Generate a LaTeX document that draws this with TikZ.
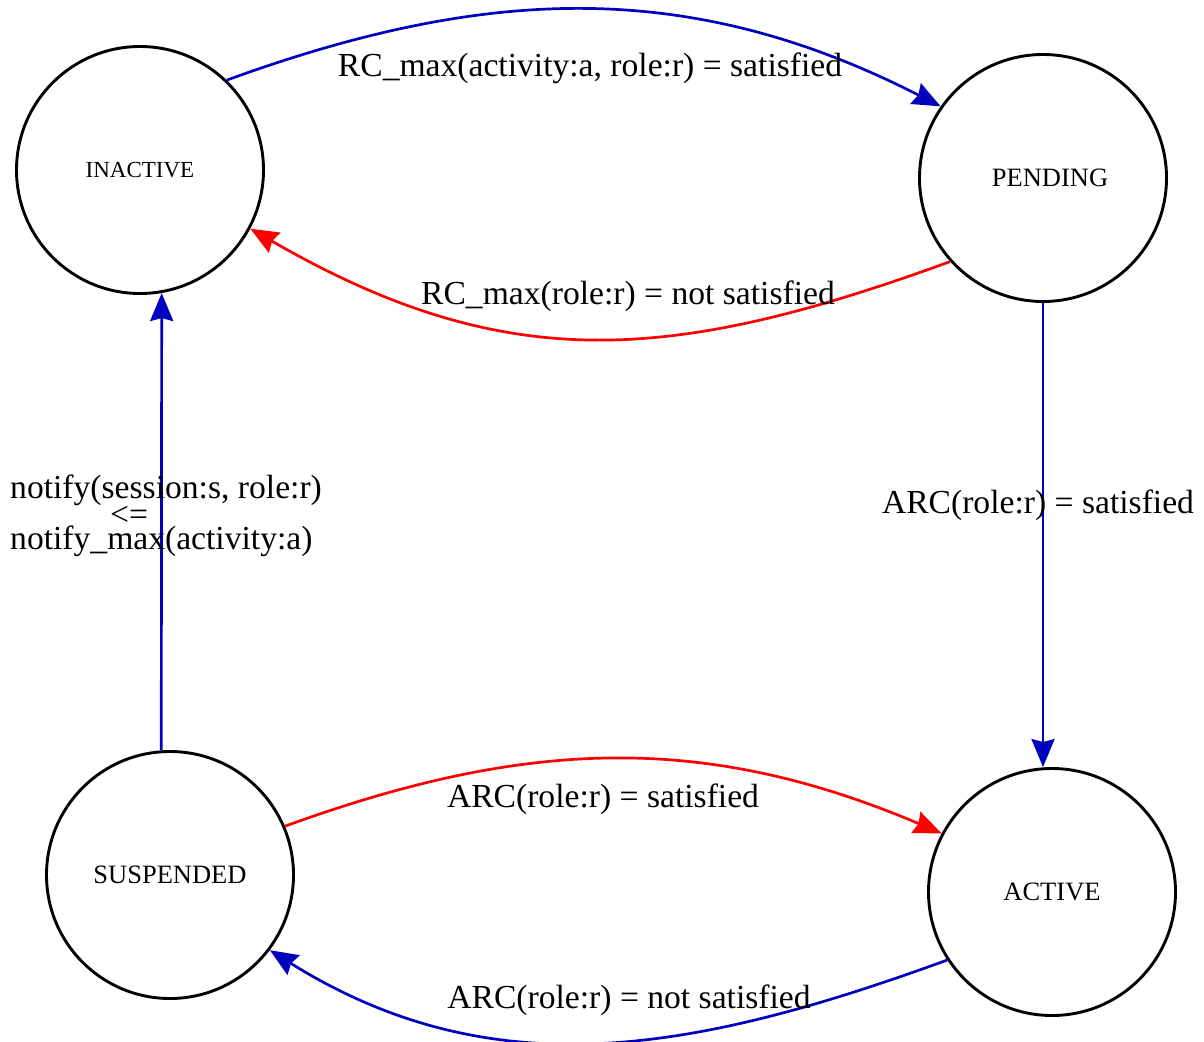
\documentclass[tikz,border=0pt]{standalone}
\usepackage{fontspec}
\setmainfont{Liberation Serif}
\usetikzlibrary{arrows.meta}
\definecolor{edgeblue}{RGB}{0,0,190}
\definecolor{edgered}{RGB}{255,0,0}
\begin{document}
\begin{tikzpicture}[x=1pt,y=1pt,
  state/.style={circle, draw=black, line width=2.9pt, minimum size=247pt,
    inner sep=0pt, font=\fontsize{26.5}{30}\selectfont},
  trans/.style={line width=2.7pt, -{Stealth[length=28pt,width=23pt,inset=3pt]}},
  blueedge/.style={trans, draw=edgeblue},
  rededge/.style={trans, draw=edgered},
  elabel/.style={font=\fontsize{33.6}{24}\selectfont, inner sep=0pt}
]
\useasboundingbox (0,0) rectangle (1204,-1041);

% states
\node[state, font=\fontsize{23}{26}\selectfont] (inactive) at (140,-170) {INACTIVE};
\node[state] (pending)   at (1043,-178) {\hspace*{14pt}PENDING};
\node[state] (suspended) at (170,-875)  {SUSPENDED};
\node[state] (active)    at (1052,-892) {ACTIVE};

% transitions
\draw[blueedge] (inactive.46) to[out=20,in=153] (pending.145);
\draw[rededge]  (pending.222) to[out=200,in=330,looseness=1.08] (inactive.332);
\draw[blueedge] (pending.south) -- (pending.south |- active.north);
\draw[blueedge] (suspended.94) -- (inactive.-80);
\draw[rededge]  (suspended.23) to[out=20,in=157] (active.152);
\draw[blueedge] (active.213) to[out=200,in=328] (suspended.323);

% transition labels
\node[elabel] (l1) at (590,-68)  {RC\_max(activity:a, role:r) = satisfied};
\node[elabel] (l2) at (628,-296) {RC\_max(role:r) = not satisfied};
\node[elabel] (l3) at (1038,-505) {ARC(role:r) = satisfied};
\node[elabel, align=left, anchor=west] (l4) at (10,-516)
  {notify(session:s, role:r)\\\hspace*{100pt}<=\\notify\_max(activity:a)};
\node[elabel] (l5) at (603,-799) {ARC(role:r) = satisfied};
\node[elabel] (l6) at (629,-1000) {ARC(role:r) = not satisfied};
\end{tikzpicture}
\end{document}
